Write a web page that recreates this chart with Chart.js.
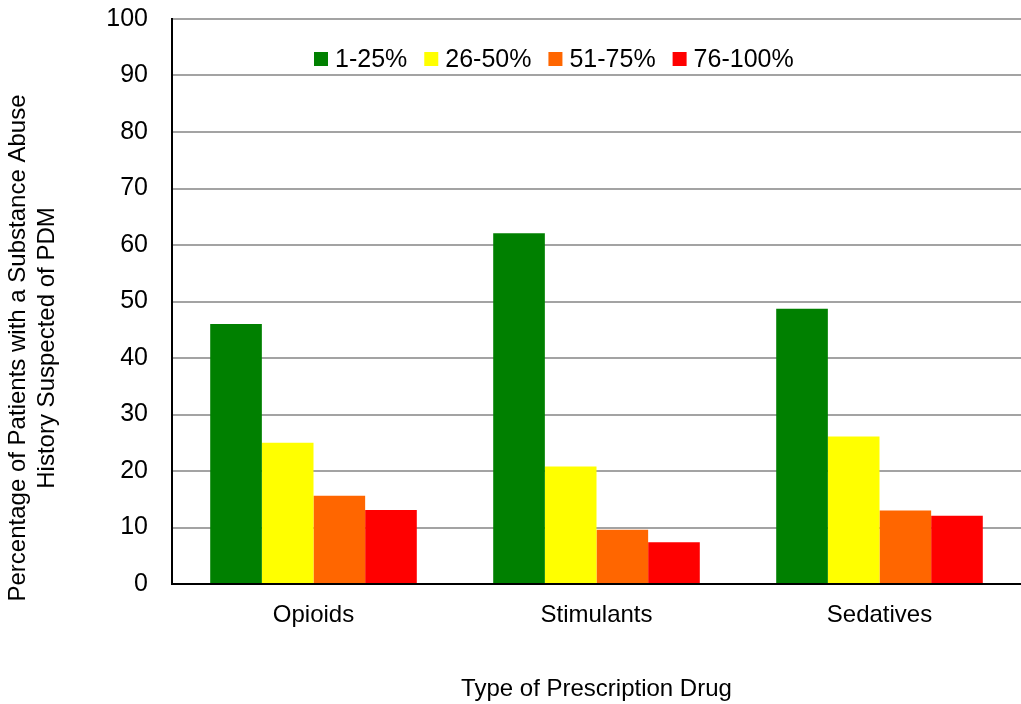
<!DOCTYPE html>
<html>
<head>
<meta charset="utf-8">
<script src="https://cdn.jsdelivr.net/npm/chart.js@4.4.1/dist/chart.umd.min.js"></script>
<style>
    html, body { margin: 0; padding: 0; background: #fff; }
    #wrap { width: 1021px; height: 704px; }
</style>
</head>
<body>
<div id="wrap"><canvas id="pdmChart"></canvas></div>
<script>
const drugTypes = ["Opioids", "Stimulants", "Sedatives"];
const bandLabels = ["1-25%", "26-50%", "51-75%", "76-100%"];
const band1to25 = [46.0, 62.1, 48.7];
const band26to50 = [25.0, 20.8, 26.1];
const band51to75 = [15.6, 9.6, 13.0];
const band76to100 = [13.1, 7.4, 12.1];
const bandColors = ["#008000", "#ffff00", "#ff6600", "#ff0000"];
const yTitleLines = ["Percentage of Patients with a Substance Abuse", "History Suspected of PDM"];

const FONT = "'Liberation Sans', Arial, sans-serif";

// legend drawn inside the plot area, in one row near the top
const insideLegend = {
    id: "insideLegend",
    afterDraw(chart) {
        const { ctx } = chart;
        ctx.save();
        ctx.font = "25px " + FONT;
        ctx.textBaseline = "middle";
        let x = 314;
        const y = 59;
        chart.data.datasets.forEach((ds) => {
            ctx.fillStyle = ds.backgroundColor;
            ctx.fillRect(x, y - 7, 14, 14);
            x += 21;
            ctx.fillStyle = "#000";
            ctx.fillText(ds.label, x, y + 1);
            x += ctx.measureText(ds.label).width + 17;
        });
        ctx.restore();
    }
};

// two-line rotated y title
const yAxisTitle = {
    id: "yAxisTitle",
    afterDraw(chart) {
        const { ctx } = chart;
        ctx.save();
        ctx.font = "24px " + FONT;
        ctx.fillStyle = "#000";
        ctx.textAlign = "center";
        ctx.textBaseline = "middle";
        ctx.translate(0, 348);
        ctx.rotate(-Math.PI / 2);
        yTitleLines.forEach((line, i) => {
            ctx.fillText(line, 0, 18 + i * 29);
        });
        ctx.restore();
    }
};

const seriesValues = [band1to25, band26to50, band51to75, band76to100];

new Chart(document.getElementById("pdmChart"), {
    type: "bar",
    data: {
        labels: drugTypes,
        datasets: seriesValues.map((vals, i) => ({
            label: bandLabels[i],
            data: vals,
            backgroundColor: bandColors[i],
            borderWidth: 0,
            categoryPercentage: 0.73,
            barPercentage: 1.0
        }))
    },
    options: {
        responsive: true,
        maintainAspectRatio: false,
        animation: false,
        layout: { padding: 0 },
        plugins: {
            legend: { display: false },
            tooltip: { enabled: false }
        },
        scales: {
            x: {
                grid: { display: false, drawTicks: false },
                border: { display: true, color: "#000", width: 2 },
                ticks: {
                    color: "#000",
                    font: { family: FONT, size: 24 },
                    padding: 17
                },
                title: {
                    display: true,
                    text: "Type of Prescription Drug",
                    color: "#000",
                    font: { family: FONT, size: 24 },
                    padding: { top: 0, bottom: 0 }
                },
                afterFit(scale) { scale.height = 120; }
            },
            y: {
                min: 0,
                max: 100,
                ticks: {
                    stepSize: 10,
                    color: "#000",
                    font: { family: FONT, size: 25 },
                    padding: 24
                },
                grid: { color: "#a3a3a3", lineWidth: 2, drawTicks: false },
                border: { display: true, color: "#000", width: 2 },
                afterFit(scale) {
                    scale.width = 172;
                    scale.paddingTop = 19;
                    scale.paddingBottom = 0;
                }
            }
        }
    },
    plugins: [insideLegend, yAxisTitle]
});
</script>
</body>
</html>
